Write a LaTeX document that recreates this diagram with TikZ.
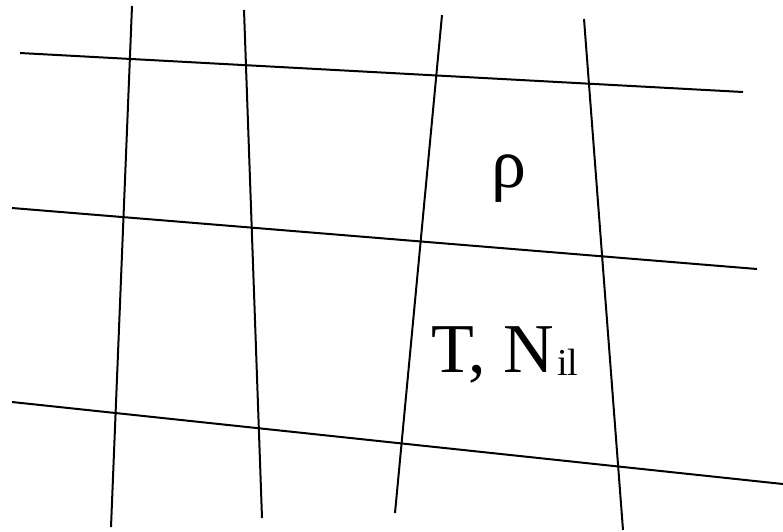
\documentclass[tikz,border=0pt]{standalone}
\usepackage{fontspec}
\setmainfont{Liberation Serif}
\begin{document}
\begin{tikzpicture}[x=1pt,y=-1pt,
  gridline/.style={line width=2pt, black},
  lbl/.style={anchor=base west, inner sep=0pt, font=\fontsize{70}{80}\selectfont}]
\useasboundingbox (0,0) rectangle (783,531);
% horizontal lines
\coordinate (h1a) at (20,53);  \coordinate (h1b) at (743,92);
\coordinate (h2a) at (12,208); \coordinate (h2b) at (757,269);
\coordinate (h3a) at (12,402); \coordinate (h3b) at (783,484);
% vertical lines
\coordinate (v1a) at (132,6);  \coordinate (v1b) at (111,527);
\coordinate (v2a) at (244,10); \coordinate (v2b) at (262,518);
\coordinate (v3a) at (442,15); \coordinate (v3b) at (395,513);
\coordinate (v4a) at (584,19); \coordinate (v4b) at (623,530);
\draw[gridline] (h1a) -- (h1b);
\draw[gridline] (h2a) -- (h2b);
\draw[gridline] (h3a) -- (h3b);
\draw[gridline] (v1a) -- (v1b);
\draw[gridline] (v2a) -- (v2b);
\draw[gridline] (v3a) -- (v3b);
\draw[gridline] (v4a) -- (v4b);
\node[lbl] (rho) at (491,187) {ρ};
\node[lbl] (tn) at (431,372) {T, N\hspace{3pt}\raisebox{-3pt}{\fontsize{38}{38}\selectfont il}};
\end{tikzpicture}
\end{document}
